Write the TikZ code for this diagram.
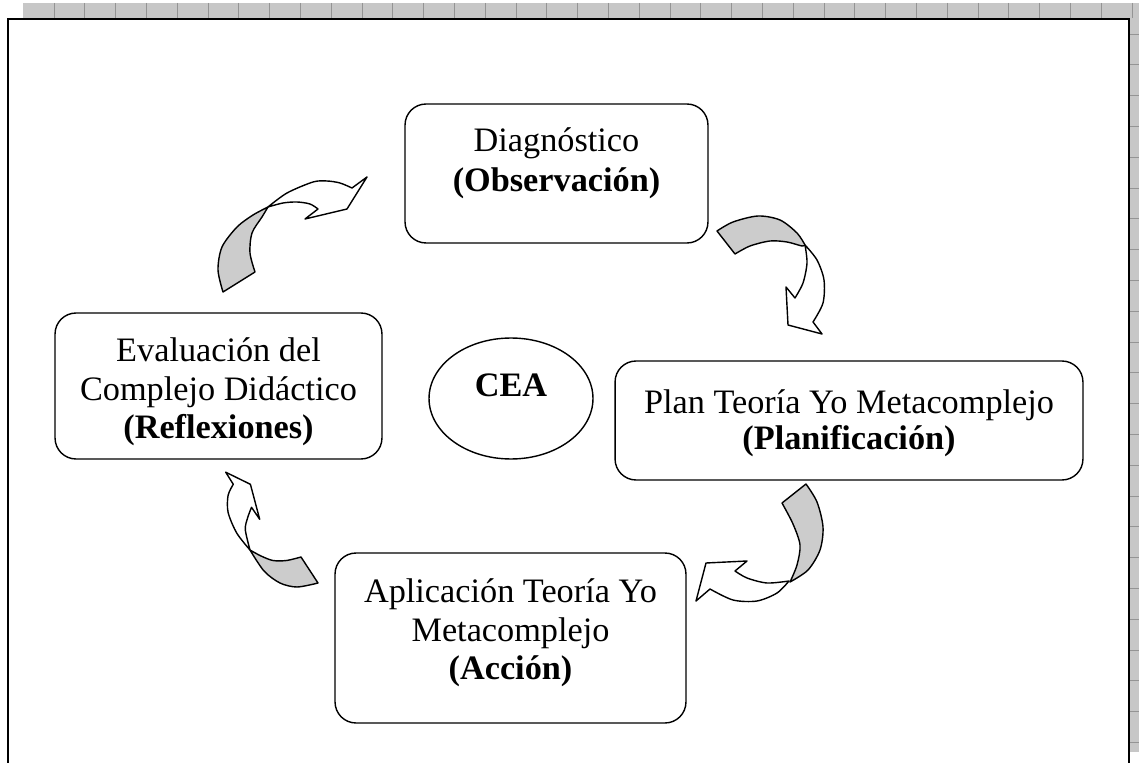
\documentclass[tikz,border=0pt]{standalone}
\usepackage{fontspec}
\setmainfont{Liberation Serif}
\usetikzlibrary{shapes.geometric}
\begin{document}
\begin{tikzpicture}[x=0.02cm,y=-0.02cm,
  box/.style={draw, line width=0.8pt, rounded corners=0.42cm, inner sep=0pt},
  lbl/.style={font=\fontsize{19.5}{20.4}\selectfont, inner sep=0pt, align=center},
  back/.style={draw, fill=black!20, line width=0.8pt, line join=round},
  front/.style={draw, fill=white, line width=0.8pt, line join=round},
  strip/.style={fill=black!22},
  gridline/.style={draw=black!42, line width=0.5pt}]
\useasboundingbox (0,0) rectangle (1139,763);

% ruler strips along the top and right edges
\fill[strip] (23,3) rectangle (1139,18);
\fill[strip] (1130,18) rectangle (1139,752);
\foreach \i in {0,...,35} \draw[gridline] ({54+30.8*\i},3) -- ({54+30.8*\i},18);
\foreach \i in {0,...,23} \draw[gridline] (1130,{34+30.8*\i}) -- (1139,{34+30.8*\i});

% page frame
\draw[line width=1.1pt] (8,763) -- (8,19) -- (1129,19) -- (1129,763);

% the four stages
\node[box, minimum width=6.06cm, minimum height=2.78cm] (diag) at (556.5,173.5) {};
\node[lbl, font=\fontsize{19.5}{22.7}\selectfont] (diagt) at (556.5,163) {Diagnóstico\\\textbf{(Observación)}};

\node[box, minimum width=9.36cm, minimum height=2.38cm] (plan) at (849,420.5) {};
\node[lbl] (plant) at (849,423) {Plan Teoría Yo Metacomplejo\\\textbf{(Planificación)}};

\node[box, minimum width=7.02cm, minimum height=3.4cm] (apli) at (510.5,638) {};
\node[lbl, font=\fontsize{19.5}{22}\selectfont] (aplit) at (510.5,633) {Aplicación Teoría Yo\\Metacomplejo\\\textbf{(Acción)}};

\node[box, minimum width=6.54cm, minimum height=2.92cm] (eval) at (218.5,386) {};
\node[lbl, font=\fontsize{19.5}{21.8}\selectfont] (evalt) at (218.5,392) {Evaluación del\\Complejo Didáctico\\\textbf{(Reflexiones)}};

% centre
\node[ellipse, draw, line width=0.8pt, minimum width=3.28cm, minimum height=2.42cm] (cea) at (511,398.5) {};
\node[lbl, font=\fontsize{19.5}{20.4}\selectfont\bfseries] (ceat) at (511,385) {CEA};

% curved arrow: evaluation -> diagnosis
\path[back] plot[smooth] coordinates {(223,292) (218,270) (222,247) (237,227) (253,215) (268,207)}
  -- plot[smooth] coordinates {(268,207) (262,217) (252,233) (250,253) (255,272)} -- cycle;
\path[front] plot[smooth] coordinates {(268,207) (287,193) (313,182) (327,181) (340,183) (352,188)}
  -- (367,177) -- (347,209) -- (305,219)
  -- plot[smooth] coordinates {(318,209) (310,204) (297,202) (283,203) (268,207)} -- cycle;

% curved arrow: diagnosis -> planning
\path[back] plot[smooth] coordinates {(717,231) (733,222) (758,216) (780,220) (797,233) (805,245)}
  -- plot[smooth] coordinates {(805,245) (802,246) (787,242) (770,241) (750,246) (735,254)} -- cycle;
\path[front] plot[smooth] coordinates {(805,245) (817,260) (824,280) (823,303) (813,322)}
  -- (822,334) -- (788,325) -- (786,287)
  -- plot[smooth] coordinates {(795,298) (803,283) (807,263) (805,245)} -- cycle;

% curved arrow: planning -> action
\path[back] plot[smooth] coordinates {(806,484) (817,502) (823,527) (820,550) (808,570) (790,582)}
  -- plot[smooth] coordinates {(790,582) (797,565) (800,545) (793,524) (782,503)} -- cycle;
\path[front] plot[smooth] coordinates {(789,581) (777,593) (757,601) (733,600) (710,589)}
  -- (696,601) -- (706,563) -- (747,561)
  -- plot[smooth] coordinates {(735,571) (747,578) (767,583) (789,581)} -- cycle;

% curved arrow: action -> evaluation
\path[back] plot[smooth] coordinates {(318,583) (297,587) (280,583) (264,571) (250,550)}
  -- plot[smooth] coordinates {(250,550) (261,556) (273,560.5) (286.5,560.5) (301,557)} -- cycle;
\path[front] plot[smooth] coordinates {(250,550) (236.7,533) (228.1,512.4) (228.1,495.3) (233.3,484.3)}
  -- (225.7,472.2) -- (250.4,484.3) -- (259.7,519.3)
  -- plot[smooth] coordinates {(251.5,507.3) (247.7,517.6) (245.3,529.6) (250,550)} -- cycle;
\end{tikzpicture}
\end{document}
